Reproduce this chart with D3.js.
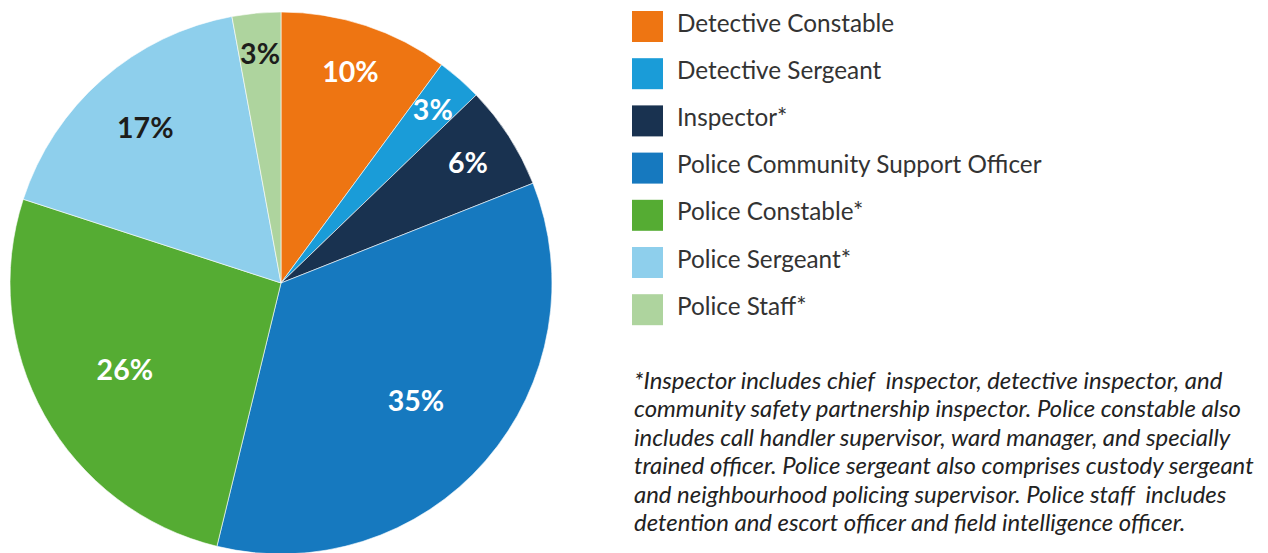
<!DOCTYPE html>
<html>
<head>
<meta charset="utf-8">
<script src="https://cdn.jsdelivr.net/npm/d3@7"></script>
<style>
  body { margin: 0; background: #fff; }
  svg { display: block; }
</style>
</head>
<body>
<div class="canvas"></div>
<script>
// data
const categories = ['Detective Constable', 'Detective Sergeant', 'Inspector*',
  'Police Community Support Officer', 'Police Constable*', 'Police Sergeant*', 'Police Staff*'];
const shares = [10.1, 2.7, 6.2, 34.8, 26.2, 17.1, 2.9];
const shareLabels = ['10%', '3%', '6%', '35%', '26%', '17%', '3%'];
const colours = ['#ee7512', '#1a9cd8', '#193250', '#1679bf', '#55ac33', '#8ecfec', '#aed49e'];
const footnote = [
  '*Inspector includes chief  inspector, detective inspector, and',
  'community safety partnership inspector. Police constable also',
  'includes call handler supervisor, ward manager, and specially',
  'trained officer. Police sergeant also comprises custody sergeant',
  'and neighbourhood policing supervisor. Police staff  includes',
  'detention and escort officer and field intelligence officer.'
];

const svg = d3.select('.canvas').append('svg')
    .attr('width', 1268)
    .attr('height', 553);

const radius = 271;
const pieGroup = svg.append('g')
    .attr('transform', 'translate(281, 283)');

const pie = d3.pie().sort(null).value(d => d);
const arcs = pie(shares);
const arc = d3.arc().innerRadius(0).outerRadius(radius);

pieGroup.selectAll('path')
  .data(arcs)
  .enter().append('path')
    .attr('d', arc)
    .attr('fill', (d, i) => colours[i])
    .attr('stroke', '#fff')
    .attr('stroke-width', 0.6);

// small slices get labels further out
const labelRadius = v => v < 5 ? radius * 0.85 : (v < 12 ? radius * 0.82 : (v < 20 ? radius * 0.76 : radius * 0.66));
const darkText = [false, false, false, false, false, true, true];

pieGroup.selectAll('text')
  .data(arcs)
  .enter().append('text')
    .attr('transform', d => {
      const r = labelRadius(d.value);
      const a = (d.startAngle + d.endAngle) / 2;
      return `translate(${Math.sin(a) * r}, ${-Math.cos(a) * r})`;
    })
    .attr('text-anchor', 'middle')
    .attr('dy', '0.36em')
    .attr('fill', (d, i) => darkText[i] ? '#1d1d1b' : '#fff')
    .style('font-family', 'Lato, sans-serif')
    .style('font-weight', 'bold')
    .style('font-size', '28.5px')
    .text((d, i) => shareLabels[i]);

// legend
const legend = svg.append('g')
    .attr('transform', 'translate(632, 11)');

const rows = legend.selectAll('g')
  .data(categories)
  .enter().append('g')
    .attr('transform', (d, i) => `translate(0, ${i * 47.2})`);

rows.append('rect')
    .attr('width', 31)
    .attr('height', 31)
    .attr('fill', (d, i) => colours[i]);

rows.append('text')
    .attr('x', 45)
    .attr('y', 12)
    .attr('dy', '0.35em')
    .attr('fill', '#333')
    .style('font-family', 'Lato, sans-serif')
    .style('font-size', '24.3px')
    .text(d => d);

// footnote
svg.append('text')
    .attr('x', 634)
    .attr('y', 389)
    .attr('fill', '#222')
    .style('font-family', 'Lato, sans-serif')
    .style('font-style', 'italic')
    .style('font-size', '23.9px')
    .style('white-space', 'pre')
  .selectAll('tspan')
  .data(footnote)
  .enter().append('tspan')
    .attr('x', 634)
    .attr('dy', (d, i) => i === 0 ? 0 : 28.4)
    .text(d => d);
</script>
</body>
</html>
